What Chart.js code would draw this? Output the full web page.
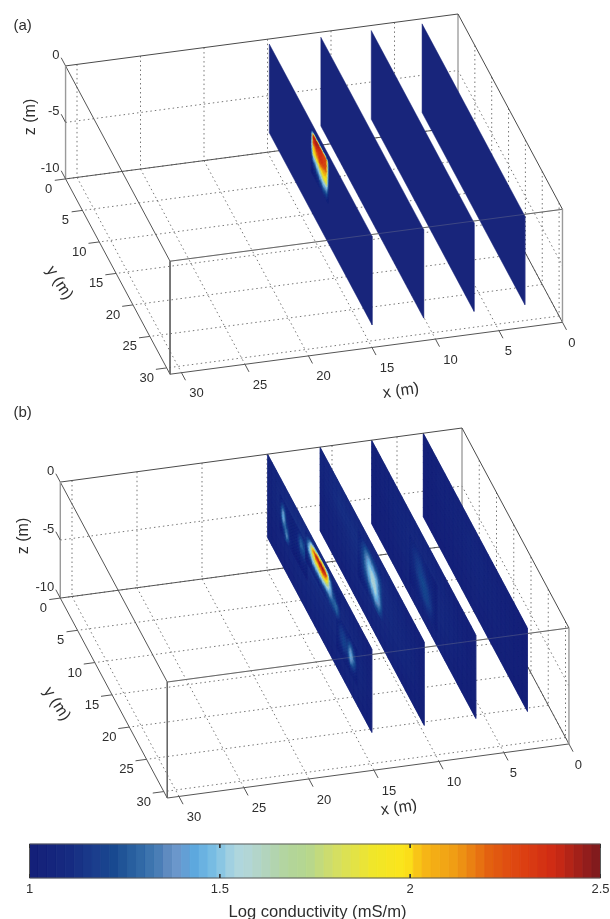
<!DOCTYPE html>
<html>
<head>
<meta charset="utf-8">
<style>
  html, body { margin: 0; padding: 0; background: #fff; }
  #fig { display: block; filter: blur(0.4px); }
</style>
<script src="https://cdn.jsdelivr.net/npm/chart.js@4"></script>
</head>
<body>
<canvas id="fig" width="610" height="919"></canvas>
<script>
// Tick labels
const xTicks = [0, 5, 10, 15, 20, 25, 30];
const yTicks = [0, 5, 10, 15, 20, 25, 30];
const zTicks = [0, -5, -10];
const barTicks = [1, 1.5, 2, 2.5];
const xLimit = 30.9;
const yLimit = 31;

// Colour bar: log conductivity -> colour
const mapValues = [1, 1.1, 1.18, 1.22, 1.29, 1.34, 1.38, 1.43, 1.49, 1.54, 1.58, 1.63, 1.68, 1.73, 1.81, 1.9, 1.99, 2.03, 2.12, 2.21, 2.3, 2.38, 2.47, 2.5];
const mapColors = ['#141f78', '#162a80', '#1b3f8e', '#17488f', '#2f68a5', '#4a7eb6', '#6e95c8', '#5ba6de', '#7cc0e4', '#aed6e0', '#b3d6d4', '#b2d4b8', '#b3d59a', '#b5d690', '#d6df60', '#f0e62a', '#fce51a', '#f7b916', '#ef9c14', '#e35f10', '#dc3f12', '#cf2a14', '#8e1c1c', '#7a1a1e'];

// Slice positions along x
const sliceXA = [14.86, 10.8, 6.83, 2.83];
const sliceXB = [14.95, 10.92, 6.95, 2.98];

// Panel (a), slice 1: the conductive block
const a1Y = [12.5, 13, 14, 15, 16, 17, 17.5];
const a1Z = [-1, -1.3, -1.8, -2.3, -2.8, -3.3, -3.8, -4.3, -4.8];
const a1V = [
  [1.02, 1.1, 1.15, 1.1, 1.1, 1.05, 1.02],
  [1.1, 2.4, 2.45, 2.4, 2.3, 2.2, 1.15],
  [1.2, 2.35, 2.4, 2.35, 2.3, 2.25, 1.2],
  [1.3, 2.0, 2.2, 2.35, 2.3, 2.2, 1.2],
  [1.2, 1.95, 2.0, 2.2, 2.1, 2.0, 1.2],
  [1.1, 1.45, 1.55, 1.75, 1.95, 1.95, 1.15],
  [1.03, 1.15, 1.3, 1.45, 1.55, 1.5, 1.1],
  [1, 1.05, 1.1, 1.2, 1.3, 1.25, 1.05],
  [1, 1, 1.03, 1.05, 1.1, 1.08, 1.02]
];

// Panel (b): coarse background of each slice
const bBackY = [0, 5, 10, 15, 20, 25, 30];
const bBackZ = [0, -2, -4, -7.2];
const b1Back = [[1.04, 1.08, 1.1, 1.1, 1.06, 1.04, 1.02], [1.04, 1.12, 1.14, 1.14, 1.1, 1.08, 1.03], [1.03, 1.08, 1.1, 1.1, 1.1, 1.1, 1.03], [1.01, 1.02, 1.03, 1.03, 1.03, 1.03, 1.01]];
const b2Back = [[1.06, 1.1, 1.08, 1.08, 1.05, 1.03, 1.01], [1.05, 1.12, 1.12, 1.14, 1.1, 1.06, 1.02], [1.03, 1.06, 1.1, 1.12, 1.1, 1.08, 1.02], [1.01, 1.02, 1.03, 1.04, 1.03, 1.02, 1.01]];
const b3Back = [[1.02, 1.04, 1.05, 1.06, 1.04, 1.02, 1.01], [1.02, 1.05, 1.08, 1.1, 1.08, 1.04, 1.01], [1.01, 1.03, 1.07, 1.1, 1.09, 1.05, 1.01], [1, 1.01, 1.02, 1.03, 1.03, 1.01, 1]];
const b4Back = [[1.01, 1.03, 1.04, 1.04, 1.03, 1.01, 1], [1.01, 1.04, 1.05, 1.07, 1.05, 1.02, 1], [1, 1.02, 1.04, 1.06, 1.05, 1.02, 1], [1, 1, 1.01, 1.02, 1.01, 1, 1]];

// Panel (b), slice 1: specks near the start
const b1TopY = [3.5, 4.5, 5.5, 6.5, 7.5, 8.5, 9.5, 10.5, 11.5];
const b1TopZ = [-1.5, -2, -2.5, -3, -3.5, -4, -4.5];
const b1TopV = [
  [1.05, 1.06, 1.06, 1.05, 1.05, 1.05, 1.08, 1.1, 1.1],
  [1.05, 1.2, 1.08, 1.05, 1.05, 1.06, 1.25, 1.2, 1.12],
  [1.05, 1.42, 1.1, 1.05, 1.05, 1.08, 1.3, 1.25, 1.12],
  [1.06, 1.5, 1.15, 1.05, 1.05, 1.06, 1.2, 1.2, 1.1],
  [1.05, 1.3, 1.3, 1.06, 1.05, 1.05, 1.1, 1.1, 1.06],
  [1.03, 1.1, 1.42, 1.1, 1.03, 1.03, 1.05, 1.05, 1.05],
  [1.02, 1.04, 1.2, 1.06, 1.02, 1.02, 1.02, 1.02, 1.02]
];

// Panel (b), slice 1: the hot streak
const b1HotY = [11, 12, 13, 14, 15, 16, 17, 18, 19, 20, 21];
const b1HotZ = [-0.5, -1, -1.5, -2, -2.5, -3];
const b1HotV = [
  [1.05, 1.1, 1.2, 1.3, 1.5, 1.7, 1.4, 1.15, 1.05, 1.05, 1.03],
  [1.1, 1.35, 2.1, 2.45, 2.5, 2.5, 2.35, 1.4, 1.1, 1.05, 1.03],
  [1.1, 1.5, 1.8, 2.0, 2.1, 2.2, 2.0, 1.5, 1.2, 1.1, 1.05],
  [1.05, 1.25, 1.5, 1.55, 1.6, 1.6, 1.55, 1.45, 1.28, 1.3, 1.1],
  [1.03, 1.08, 1.15, 1.2, 1.2, 1.2, 1.2, 1.25, 1.25, 1.3, 1.1],
  [1.02, 1.03, 1.05, 1.05, 1.05, 1.06, 1.1, 1.12, 1.12, 1.12, 1.05]
];

// Panel (b), slice 1: spot near the far end
const b1LowY = [20, 21, 22, 23, 24, 25, 26];
const b1LowZ = [-2.5, -3, -3.5, -4, -4.5, -5, -5.5];
const b1LowV = [
  [1.05, 1.08, 1.08, 1.06, 1.05, 1.05, 1.03],
  [1.06, 1.12, 1.14, 1.1, 1.2, 1.12, 1.04],
  [1.06, 1.15, 1.2, 1.15, 1.38, 1.2, 1.05],
  [1.05, 1.15, 1.22, 1.18, 1.48, 1.3, 1.05],
  [1.04, 1.12, 1.18, 1.12, 1.4, 1.22, 1.04],
  [1.03, 1.06, 1.1, 1.06, 1.15, 1.1, 1.03],
  [1.02, 1.03, 1.04, 1.03, 1.04, 1.03, 1.02]
];

// Panel (b), slice 2: the pale blob
const b2Y = [11, 12, 13, 14, 15, 16, 17, 18];
const b2Z = [-1, -1.5, -2, -2.5, -3, -3.5, -4, -4.5, -5];
const b2V = [
  [1.08, 1.1, 1.12, 1.14, 1.14, 1.12, 1.1, 1.08],
  [1.08, 1.12, 1.25, 1.3, 1.25, 1.2, 1.15, 1.1],
  [1.1, 1.15, 1.3, 1.45, 1.42, 1.35, 1.25, 1.12],
  [1.1, 1.15, 1.3, 1.5, 1.55, 1.5, 1.32, 1.14],
  [1.08, 1.14, 1.28, 1.45, 1.58, 1.55, 1.35, 1.14],
  [1.06, 1.12, 1.22, 1.36, 1.52, 1.58, 1.4, 1.15],
  [1.05, 1.1, 1.16, 1.25, 1.38, 1.5, 1.42, 1.18],
  [1.04, 1.06, 1.1, 1.15, 1.22, 1.35, 1.32, 1.15],
  [1.03, 1.04, 1.06, 1.08, 1.1, 1.16, 1.18, 1.1]
];

// Panel (b), slice 3: faint streak
const b3Y = [11, 12, 13, 14, 15, 16, 17, 18, 19];
const b3Z = [-2, -3, -4, -5, -6];
const b3V = [
  [1.06, 1.08, 1.1, 1.1, 1.08, 1.06, 1.05, 1.04, 1.03],
  [1.08, 1.12, 1.16, 1.18, 1.15, 1.1, 1.08, 1.05, 1.03],
  [1.06, 1.1, 1.16, 1.22, 1.24, 1.2, 1.14, 1.06, 1.03],
  [1.03, 1.06, 1.08, 1.14, 1.2, 1.22, 1.18, 1.08, 1.03],
  [1.01, 1.02, 1.04, 1.06, 1.08, 1.1, 1.1, 1.05, 1.02]
];

// Each panel: where it sits on the page, and what its slices show
const panelA = {
  origin: [458, 14], ex: [-12.7, 1.68], ey: [3.37, 6.3], ez: 11.3,
  sliceX: sliceXA, sliceY: [0, 30.5], sliceZ: [-0.45, -8.3],
  patches: [[0, a1Y, a1Z, a1V]],
  tag: '(a)', tagAt: [22.7, 26], zLabelAt: [30.7, 117], yLabelAt: [59.3, 283], xLabelAt: [401, 391]
};
const panelB = {
  origin: [462, 428], ex: [-13, 1.75], ey: [3.45, 6.45], ez: 11.6,
  sliceX: sliceXB, sliceY: [0, 30.2], sliceZ: [0, -7.2],
  patches: [
    [0, bBackY, bBackZ, b1Back], [1, bBackY, bBackZ, b2Back], [2, bBackY, bBackZ, b3Back], [3, bBackY, bBackZ, b4Back],
    [0, b1TopY, b1TopZ, b1TopV], [0, b1LowY, b1LowZ, b1LowV], [0, b1HotY, b1HotZ, b1HotV],
    [1, b2Y, b2Z, b2V], [2, b3Y, b3Z, b3V]
  ],
  tag: '(b)', tagAt: [22.7, 413], zLabelAt: [24, 536], yLabelAt: [56.7, 704], xLabelAt: [399, 808]
};

const barLeft = 29.5, barRight = 600.5, barTop = 844, barBottom = 878;

function project(p, x, y, z) {
  return {
    x: p.origin[0] + p.ex[0] * x + p.ey[0] * y,
    y: p.origin[1] + p.ex[1] * x + p.ey[1] * y - p.ez * z
  };
}

function hexRgb(h) {
  return [1, 3, 5].map(i => parseInt(h.substr(i, 2), 16));
}

function colorFor(v) {
  if (v <= mapValues[0]) return mapColors[0];
  for (let i = 1; i < mapValues.length; i++) {
    if (v <= mapValues[i]) {
      const t = (v - mapValues[i - 1]) / (mapValues[i] - mapValues[i - 1]);
      const a = hexRgb(mapColors[i - 1]), b = hexRgb(mapColors[i]);
      return 'rgb(' + a.map((c, k) => Math.round(c + (b[k] - c) * t)).join(',') + ')';
    }
  }
  return mapColors[mapColors.length - 1];
}

const datasets = [];

function addLine(points, color, width, dash) {
  datasets.push({ data: points, showLine: true, borderColor: color, borderWidth: width, borderDash: dash || [], pointRadius: 0, fill: false });
}

function addShape(points, color, panel, patches) {
  datasets.push({ data: points, showLine: true, borderColor: color, borderWidth: 0.5, backgroundColor: color, pointRadius: 0, fill: 'shape', panel: panel, patches: patches });
}

function addPanel(p) {
  const P = (x, y, z) => project(p, x, y, z);
  const grid = '#777', dots = [1.5, 3];

  // Back wall, side wall and floor grids
  xTicks.forEach(x => {
    if (x > 0) addLine([P(x, 0, 0), P(x, 0, -10)], grid, 1, dots);
    addLine([P(x, 0, -10), P(x, yLimit, -10)], grid, 1, dots);
  });
  yTicks.forEach(y => {
    if (y > 0) addLine([P(0, y, 0), P(0, y, -10)], grid, 1, dots);
    addLine([P(0, y, -10), P(xLimit, y, -10)], grid, 1, dots);
  });
  addLine([P(xLimit, 0, -5), P(0, 0, -5), P(0, yLimit, -5)], grid, 1, dots);

  // Box edges that sit behind the slices
  addLine([P(0, 0, 0), P(0, 0, -10)], '#a0a0a0', 1.4);
  addLine([P(xLimit, 0, -10), P(0, 0, -10), P(0, yLimit, -10)], '#555', 1);
  addLine([P(xLimit, yLimit, 0), P(0, yLimit, 0)], '#555', 1);

  // Slices, the nearest one last
  const sy = p.sliceY, sz = p.sliceZ;
  [3, 2, 1, 0].forEach(i => {
    const x = p.sliceX[i];
    addShape([P(x, sy[0], sz[0]), P(x, sy[1], sz[0]), P(x, sy[1], sz[1]), P(x, sy[0], sz[1]), P(x, sy[0], sz[0])],
      '#18257b', p, p.patches.filter(c => c[0] === i).map(c => ({ x: x, ys: c[1], zs: c[2], vs: c[3] })));
  });

  // Box edges in front
  addLine([P(xLimit, yLimit, 0), P(0, yLimit, 0)], 'rgba(150,150,150,0.3)', 1);
  addLine([P(xLimit, 0, 0), P(0, 0, 0), P(0, yLimit, 0)], '#4a4a4a', 1);
  addLine([P(xLimit, 0, 0), P(xLimit, yLimit, 0)], '#555', 1);
  addLine([P(xLimit, 0, 0), P(xLimit, 0, -10)], '#9a9a9a', 1.4);
  addLine([P(xLimit, 0, -10), P(xLimit, yLimit, -10), P(0, yLimit, -10)], '#555', 1);
  addLine([P(xLimit, yLimit, 0), P(xLimit, yLimit, -10)], '#666', 1);
  addLine([P(0, yLimit, 0), P(0, yLimit, -10)], '#9a9a9a', 1.4);

  // Ticks
  xTicks.forEach(x => addLine([P(x, yLimit, -10), P(x, yLimit + 1.2, -10)], '#555', 1));
  yTicks.forEach(y => addLine([P(xLimit, y, -10), P(xLimit + 0.85, y, -10)], '#555', 1));
  zTicks.forEach(z => addLine([P(xLimit, 0, z), P(xLimit, -1.3, z)], '#555', 1));
}

addPanel(panelA);
addPanel(panelB);

// Colour bar bands
const bandCount = 64;
const barX = v => barLeft + (v - 1) / 1.5 * (barRight - barLeft);
for (let i = 0; i < bandCount; i++) {
  const a = 1 + 1.5 * i / bandCount, b = 1 + 1.5 * (i + 1) / bandCount;
  addShape([{ x: barX(a), y: barTop }, { x: barX(b), y: barTop }, { x: barX(b), y: barBottom }, { x: barX(a), y: barBottom }, { x: barX(a), y: barTop }], colorFor((a + b) / 2));
}
addLine([{ x: barLeft, y: barBottom }, { x: barLeft, y: barTop }, { x: barRight, y: barTop }, { x: barRight, y: barBottom }, { x: barLeft, y: barBottom }], '#5a5a5a', 1);
barTicks.forEach(v => {
  addLine([{ x: barX(v), y: barTop }, { x: barX(v), y: barTop + 4 }], '#333', 1);
  addLine([{ x: barX(v), y: barBottom - 4 }, { x: barX(v), y: barBottom }], '#333', 1);
});

// Paint order follows the order they were added
datasets.forEach((d, i) => { d.order = datasets.length - i; });

// Shaded conductivity on the slices, interpolated across each grid cell like shading interp
const slicePatches = {
  id: 'slicePatches',
  afterDatasetDraw(chart, args) {
    const ds = chart.data.datasets[args.index];
    if (!ds.patches) return;
    const ctx = chart.ctx, sx = chart.scales.x, sy = chart.scales.y, sub = 4;
    const px = pt => [sx.getPixelForValue(pt.x), sy.getPixelForValue(pt.y)];
    ds.patches.forEach(patch => {
      for (let r = 0; r < patch.zs.length - 1; r++) {
        for (let c = 0; c < patch.ys.length - 1; c++) {
          for (let i = 0; i < sub; i++) {
            for (let j = 0; j < sub; j++) {
              const u = (j + 0.5) / sub, w = (i + 0.5) / sub;
              const v = patch.vs[r][c] * (1 - u) * (1 - w) + patch.vs[r][c + 1] * u * (1 - w) +
                patch.vs[r + 1][c] * (1 - u) * w + patch.vs[r + 1][c + 1] * u * w;
              const y0 = patch.ys[c] + (patch.ys[c + 1] - patch.ys[c]) * j / sub;
              const y1 = patch.ys[c] + (patch.ys[c + 1] - patch.ys[c]) * (j + 1) / sub;
              const z0 = patch.zs[r] + (patch.zs[r + 1] - patch.zs[r]) * i / sub;
              const z1 = patch.zs[r] + (patch.zs[r + 1] - patch.zs[r]) * (i + 1) / sub;
              const quad = [[y0, z0], [y1, z0], [y1, z1], [y0, z1]].map(q => px(project(ds.panel, patch.x, q[0], q[1])));
              ctx.fillStyle = ctx.strokeStyle = colorFor(v);
              ctx.lineWidth = 0.4;
              ctx.beginPath();
              quad.forEach((q, k) => k ? ctx.lineTo(q[0], q[1]) : ctx.moveTo(q[0], q[1]));
              ctx.closePath();
              ctx.fill();
              ctx.stroke();
            }
          }
        }
      }
    });
  }
};

// All text: tick labels, axis labels, panel tags, colour bar caption
const figureText = {
  id: 'figureText',
  afterDraw(chart) {
    const ctx = chart.ctx, sx = chart.scales.x, sy = chart.scales.y;
    const put = (text, x, y, size, align, angle) => {
      ctx.save();
      ctx.translate(sx.getPixelForValue(x), sy.getPixelForValue(y));
      ctx.rotate((angle || 0) * Math.PI / 180);
      ctx.font = size + 'px "Liberation Sans", Arial, sans-serif';
      ctx.fillStyle = '#2e2e2e';
      ctx.textAlign = align || 'center';
      ctx.textBaseline = 'middle';
      ctx.fillText(text, 0, 0);
      ctx.restore();
    };
    [panelA, panelB].forEach(p => {
      xTicks.forEach(x => {
        const b = project(p, x, yLimit, -10);
        put(String(x), b.x + (x > 5 ? 15 : 9.5), b.y + 21, 13);
      });
      yTicks.forEach(y => {
        const b = project(p, xLimit, y, -10);
        put(String(y), b.x - (y > 5 ? 20 : 17), b.y + 10.5, 13);
      });
      zTicks.forEach(z => {
        const b = project(p, xLimit, 0, z);
        put(String(z), b.x - 6, b.y - 10.5, 13, 'right');
      });
      put(p.tag, p.tagAt[0], p.tagAt[1], 15);
      put('z (m)', p.zLabelAt[0], p.zLabelAt[1], 16, 'center', -90);
      put('y (m)', p.yLabelAt[0], p.yLabelAt[1], 16, 'center', 57);
      put('x (m)', p.xLabelAt[0], p.xLabelAt[1], 16, 'center', -8);
    });
    barTicks.forEach(v => put(String(v), barX(v), 889, 13));
    put('Log conductivity (mS/m)', 317.5, 912, 16.6);
  }
};

new Chart(document.getElementById('fig').getContext('2d'), {
  type: 'scatter',
  data: { datasets: datasets },
  options: {
    responsive: false,
    animation: false,
    devicePixelRatio: 1,
    layout: { padding: 0 },
    plugins: { legend: { display: false }, tooltip: { enabled: false } },
    scales: {
      x: { type: 'linear', min: 0, max: 610, display: false },
      y: { type: 'linear', min: 0, max: 919, reverse: true, display: false }
    }
  },
  plugins: [slicePatches, figureText]
});
</script>
</body>
</html>
